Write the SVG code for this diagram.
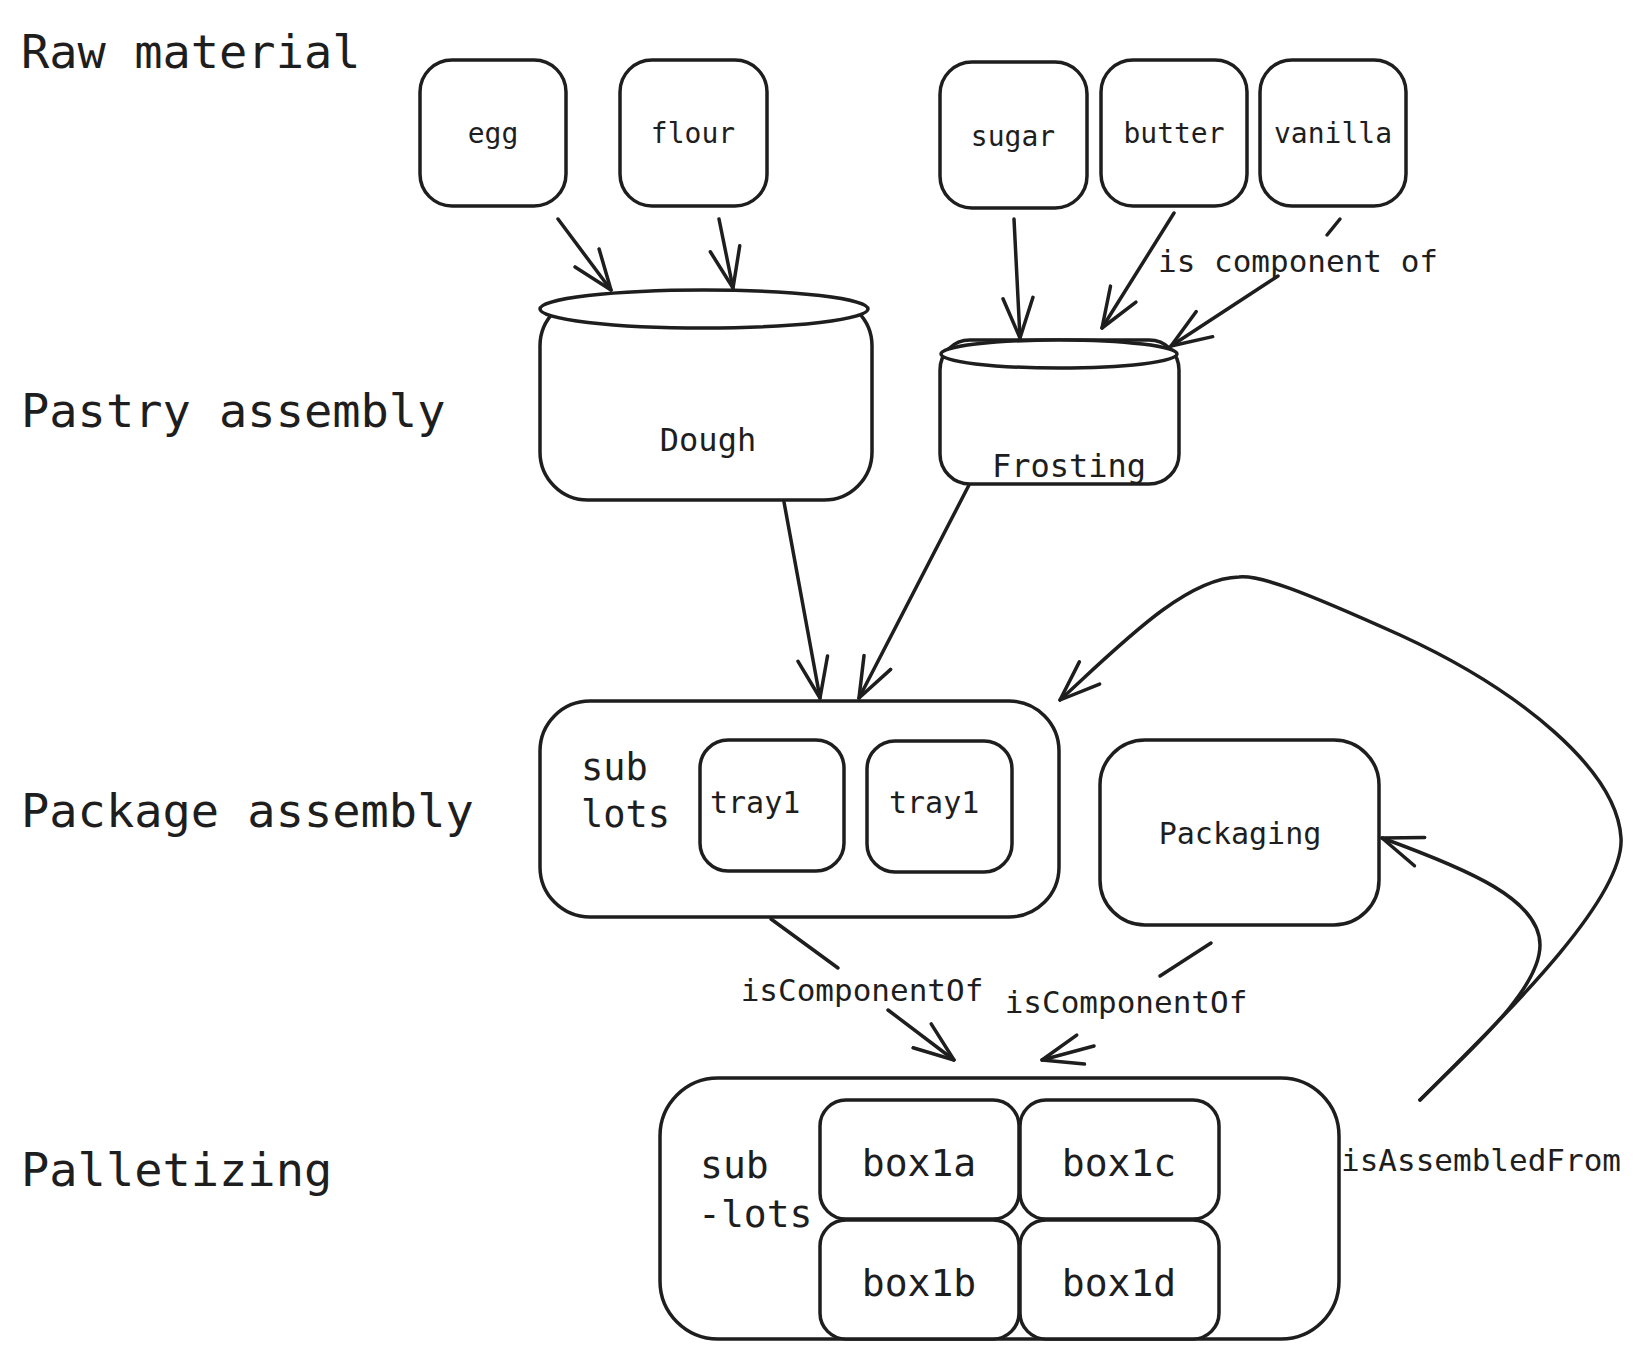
<svg xmlns="http://www.w3.org/2000/svg" width="1642" height="1360" viewBox="0 0 1642 1360">
<defs>
<style>
.s{fill:#fff;stroke:#1e1e1e;stroke-width:3.5}
.c{fill:none;stroke:#1e1e1e;stroke-width:3.5;stroke-linecap:round}
text{font-family:"DejaVu Sans Mono","Liberation Mono",monospace;fill:#1e1e1e}
.lane{font-size:47px}
.n{font-size:28px;text-anchor:middle}
.m{font-size:31px;text-anchor:middle}
.b{font-size:38px;text-anchor:middle}
.sl{font-size:37px}
</style>
<marker id="ah" viewBox="0 0 44 36" refX="42" refY="18" markerWidth="44" markerHeight="36" markerUnits="userSpaceOnUse" orient="auto">
<path d="M2,3 L42,18 L2,33" fill="none" stroke="#1e1e1e" stroke-width="3.5" stroke-linecap="round" stroke-linejoin="round"/>
</marker>
</defs>
<rect width="1642" height="1360" fill="#fff"/>

<g id="lanes">
<text class="lane" x="21" y="68">Raw material</text>
<text class="lane" x="21" y="427">Pastry assembly</text>
<text class="lane" x="21" y="827">Package assembly</text>
<text class="lane" x="21" y="1186">Palletizing</text>
</g>

<g id="egg"><rect class="s" x="420" y="60" width="146" height="146" rx="32"/><text class="n" x="493" y="143">egg</text></g>
<g id="flour"><rect class="s" x="620" y="60" width="147" height="146" rx="32"/><text class="n" x="693" y="143">flour</text></g>
<g id="sugar"><rect class="s" x="940" y="62" width="147" height="146" rx="32"/><text class="n" x="1013" y="146">sugar</text></g>
<g id="butter"><rect class="s" x="1101" y="60" width="146" height="146" rx="32"/><text class="n" x="1174" y="143">butter</text></g>
<g id="vanilla"><rect class="s" x="1260" y="60" width="146" height="146" rx="32"/><text class="n" x="1333" y="143">vanilla</text></g>

<g id="dough">
<rect class="s" x="540" y="298" width="332" height="202" rx="48"/>
<ellipse class="s" cx="704" cy="309" rx="164" ry="19"/>
<text class="m" x="708" y="451" style="font-size:32px">Dough</text>
</g>

<g id="frosting">
<rect class="s" x="940" y="340" width="239" height="144" rx="30"/>
<ellipse class="s" cx="1059" cy="354" rx="118" ry="14"/>
<text class="m" x="1069" y="477" style="font-size:32px">Frosting</text>
</g>

<g id="sublots">
<rect class="s" x="540" y="701" width="519" height="216" rx="50"/>
<text class="sl" x="581" y="780">sub</text>
<text class="sl" x="581" y="827">lots</text>
</g>
<g id="tray1a"><rect class="s" x="700" y="740" width="144" height="131" rx="28"/><text x="710" y="813" style="font-size:30px">tray1</text></g>
<g id="tray1b"><rect class="s" x="867" y="741" width="145" height="131" rx="28"/><text x="889" y="813" style="font-size:30px">tray1</text></g>

<g id="packaging"><rect class="s" x="1100" y="740" width="279" height="185" rx="45"/><text class="m" x="1240" y="844" style="font-size:30px">Packaging</text></g>

<g id="pallet">
<rect class="s" x="660" y="1078" width="679" height="261" rx="58"/>
<text x="700" y="1178" style="font-size:38px">sub</text>
<text x="698" y="1227" style="font-size:38px">-lots</text>
</g>
<g id="box1a"><rect class="s" x="820" y="1100" width="199" height="119" rx="26"/><text class="b" x="919" y="1176">box1a</text></g>
<g id="box1c"><rect class="s" x="1020" y="1100" width="199" height="119" rx="26"/><text class="b" x="1119" y="1176">box1c</text></g>
<g id="box1b"><rect class="s" x="820" y="1220" width="199" height="119" rx="26"/><text class="b" x="919" y="1296">box1b</text></g>
<g id="box1d"><rect class="s" x="1020" y="1220" width="199" height="119" rx="26"/><text class="b" x="1119" y="1296">box1d</text></g>

<g id="connectors">
<line class="c" x1="558" y1="219" x2="611" y2="290" marker-end="url(#ah)"/>
<line class="c" x1="719" y1="219" x2="733" y2="288" marker-end="url(#ah)"/>
<line class="c" x1="1014" y1="219" x2="1020" y2="338" marker-end="url(#ah)"/>
<line class="c" x1="1174" y1="213" x2="1102" y2="328" marker-end="url(#ah)"/>
<line class="c" x1="1340" y1="219" x2="1327" y2="235"/>
<line class="c" x1="1278" y1="276" x2="1171" y2="346" marker-end="url(#ah)"/>
<text class="m" x="1298" y="272">is component of</text>
<line class="c" x1="784" y1="502" x2="820" y2="698" marker-end="url(#ah)"/>
<line class="c" x1="969" y1="485" x2="859" y2="698" marker-end="url(#ah)"/>
<line class="c" x1="771" y1="919" x2="838" y2="968"/>
<line class="c" x1="888" y1="1010" x2="954" y2="1060" marker-end="url(#ah)"/>
<text class="m" x="862" y="1001">isComponentOf</text>
<line class="c" x1="1211" y1="943" x2="1160" y2="976"/>
<line class="c" x1="1094" y1="1046" x2="1042" y2="1060" marker-end="url(#ah)"/>
<text class="m" x="1126" y="1013">isComponentOf</text>
<path class="c" d="M1420,1100 C1500,1020 1625,900 1621,838 C1617,770 1520,690 1400,635 C1300,590 1260,575 1239,577 C1185,578 1120,645 1060,700" marker-end="url(#ah)"/>
<path class="c" d="M1420,1100 C1470,1050 1540,990 1540,945 C1540,900 1470,870 1382,838" marker-end="url(#ah)"/>
<text class="m" x="1481" y="1171">isAssembledFrom</text>
</g>
</svg>
